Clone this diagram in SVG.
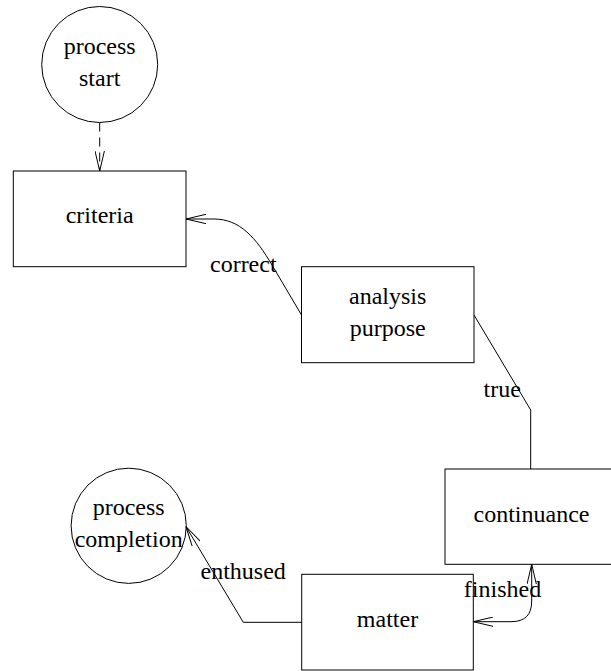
<svg xmlns="http://www.w3.org/2000/svg" width="611" height="671" viewBox="0 0 611 671">
<style>
.n{fill:#fff;stroke:#000;stroke-width:1}
.t{font-size:24px;fill:#000;text-anchor:middle}
.e{fill:none;stroke:#000;stroke-width:1}
.d{stroke-dasharray:9,6}
</style>
<defs>
<marker id="arr" viewBox="0 0 20 10" refX="20" refY="5" markerWidth="20" markerHeight="10" markerUnits="userSpaceOnUse" orient="auto-start-reverse">
<path d="M0,0.3 L20,5 L0,9.7" fill="none" stroke="#000" stroke-width="1"/>
</marker>
</defs>
<rect width="611" height="671" fill="#fff"/>
<g font-family="'Liberation Serif', 'Times New Roman', 'DejaVu Serif', serif">
<g id="process_start">
<circle class="n" cx="99.7" cy="64.5" r="58"/>
<text class="t" x="99.7" y="54">process</text>
<text class="t" x="99.7" y="86">start</text>
</g>
<g id="criteria">
<rect class="n" x="13.3" y="171" width="172.7" height="95.7"/>
<text class="t" x="99.7" y="223.2">criteria</text>
</g>
<g id="analysis_purpose">
<rect class="n" x="301.5" y="266.7" width="172.5" height="96"/>
<text class="t" x="387.7" y="304.3">analysis</text>
<text class="t" x="387.7" y="336">purpose</text>
</g>
<g id="continuance">
<rect class="n" x="445" y="469" width="173" height="95.3"/>
<text class="t" x="531.5" y="521.5">continuance</text>
</g>
<g id="matter">
<rect class="n" x="301.7" y="574.3" width="171.6" height="95.7"/>
<text class="t" x="387.5" y="626.5">matter</text>
</g>
<g id="process_completion">
<circle class="n" cx="128.7" cy="525.8" r="57.6"/>
<text class="t" x="128.7" y="515.3">process</text>
<text class="t" x="128.7" y="547.3">completion</text>
</g>
<g id="connectors">
<path class="e d" d="M99.7,122.5 L99.7,171" marker-end="url(#arr)"/>
<path class="e" d="M301.5,315 L272,265 C256,238 240,219 214,219 L186,219" marker-end="url(#arr)"/>
<path class="e" d="M474,315 L530.7,410 L530.7,469"/>
<path class="e" d="M531.7,564.3 L531.7,601 C531.7,615 525,621.7 511,621.7 L473.3,621.7" marker-start="url(#arr)" marker-end="url(#arr)"/>
<path class="e" d="M301.7,622.3 L243.3,622.3 L185.9,526.5" marker-end="url(#arr)"/>
<text class="t" x="243.3" y="271.7">correct</text>
<text class="t" x="502.2" y="396.7">true</text>
<text class="t" x="502.5" y="597.3">finished</text>
<text class="t" x="243.2" y="579">enthused</text>
</g>
</g>
</svg>
